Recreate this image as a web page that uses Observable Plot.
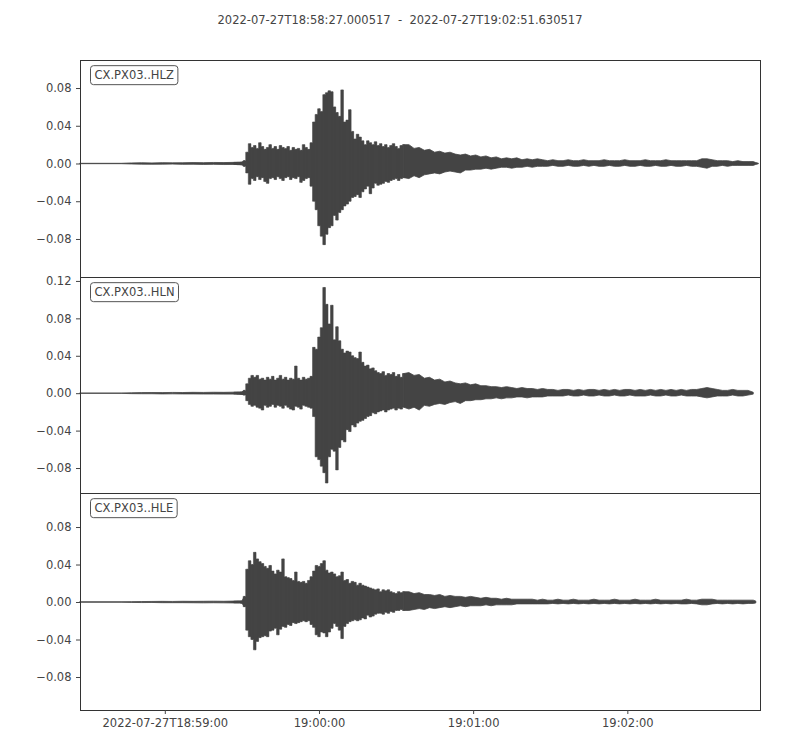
<!DOCTYPE html>
<html><head><meta charset="utf-8">
<script src="https://cdn.jsdelivr.net/npm/d3@7"></script>
<script src="https://cdn.jsdelivr.net/npm/@observablehq/plot@0.6"></script>
<style>
body{margin:0;background:#fff;font-family:"DejaVu Sans",sans-serif;}
#chart{position:relative;width:800px;height:750px;background:#fff;}
#title{position:absolute;top:13px;left:0;width:800px;text-align:center;font-size:11.5px;color:#444;white-space:pre;z-index:5;}
.panel{position:absolute;left:0;}
</style>
</head><body>
<div id="chart"><div id="title"></div></div>
<script>
// ---- data ----
const TITLE = "2022-07-27T18:58:27.000517  -  2022-07-27T19:02:51.630517";
const START = "2022-07-27T18:58:27.000517";
const END = "2022-07-27T19:02:51.630517";
const CHANNELS = ["CX.PX03..HLZ", "CX.PX03..HLN", "CX.PX03..HLE"];
const XTICKS = ["2022-07-27T18:59:00Z", "2022-07-27T19:00:00Z", "2022-07-27T19:01:00Z", "2022-07-27T19:02:00Z"];
const XTICK_LABELS = ["2022-07-27T18:59:00", "19:00:00", "19:01:00", "19:02:00"];
const YTICKS_Z = [-0.08, -0.04, 0, 0.04, 0.08];
const YTICKS_N = [-0.08, -0.04, 0, 0.04, 0.08, 0.12];
const YTICKS_E = [-0.08, -0.04, 0, 0.04, 0.08];
const YDOMAIN_Z = [-0.1203, 0.1097];
const YDOMAIN_N = [-0.1067, 0.1242];
const YDOMAIN_E = [-0.1152, 0.1163];
const STRONG_END = 126; // seconds: end of 1-second sampling

// envelope sample times, seconds after START
const T = [0,16,20,24,28,32,36,40,44,48,52,56,60,62,63,64,
65,66,67,68,69,70,71,72,73,74,75,76,77,78,79,80,81,82,83,84,85,86,87,88,89,90,91,92,93,94,
95,96,97,98,99,100,101,102,103,104,105,106,107,108,109,110,111,112,113,114,115,116,117,118,119,120,121,122,123,124,125,126,
128,130,132,134,136,138,140,142,144,146,148,150,152,154,156,158,160,162,164,166,168,170,172,174,176,178,180,182,184,186,
188,190,192,194,196,198,200,202,204,206,208,210,212,214,216,218,220,222,224,226,228,230,232,234,236,238,240,242,244,246,
248,250,252,254,256,258,260,262,263,264];

// HLZ upper / lower envelope
const Z_HI = [0.0002,0.0002,0.0006,0.0008,0.0006,0.0009,0.0007,0.0008,0.0010,0.0009,0.0011,0.0010,0.0012,0.0013,0.0015,0.0030,
0.012,0.021,0.017,0.019,0.016,0.022,0.018,0.015,0.017,0.020,
0.016,0.018,0.015,0.019,0.017,0.016,0.018,0.014,0.017,0.015,
0.016,0.014,0.020,0.017,0.015,0.022,0.044,0.052,0.058,0.055,
0.073,0.075,0.077,0.076,0.060,0.054,0.050,0.078,0.044,0.046,
0.057,0.034,0.026,0.031,0.028,0.024,0.020,0.024,0.022,0.020,
0.023,0.019,0.021,0.018,0.020,0.017,0.019,0.021,0.018,0.016,
0.019,0.020,
0.020,0.016,0.017,0.014,0.015,0.012,0.013,0.011,0.012,0.010,
0.009,0.010,0.008,0.009,0.007,0.008,0.006,0.007,0.005,0.006,
0.005,0.006,0.004,0.005,0.004,0.005,0.004,0.003,0.004,0.003,
0.003,0.004,0.003,0.003,0.004,0.003,0.003,0.003,0.004,0.003,
0.003,0.003,0.004,0.003,0.003,0.003,0.004,0.003,0.003,0.003,
0.004,0.003,0.003,0.003,0.003,0.003,0.003,0.005,0.005,0.004,
0.003,0.003,0.003,0.002,0.003,0.002,0.002,0.002,
0.001,0.0003];
const Z_LO = [-0.0002,-0.0002,-0.0005,-0.0007,-0.0008,-0.0007,-0.0006,-0.0009,-0.0008,-0.0010,-0.0009,-0.0011,-0.0010,-0.0012,-0.0014,-0.0030,
-0.010,-0.022,-0.016,-0.018,-0.014,-0.017,-0.015,-0.019,-0.021,-0.016,
-0.015,-0.017,-0.014,-0.016,-0.018,-0.015,-0.014,-0.017,-0.015,-0.016,
-0.014,-0.020,-0.018,-0.016,-0.015,-0.024,-0.040,-0.049,-0.066,-0.077,
-0.086,-0.075,-0.068,-0.066,-0.055,-0.060,-0.052,-0.049,-0.045,-0.043,
-0.040,-0.036,-0.035,-0.033,-0.036,-0.030,-0.027,-0.024,-0.032,-0.026,
-0.021,-0.023,-0.022,-0.021,-0.019,-0.020,-0.018,-0.017,-0.016,-0.018,
-0.016,-0.015,
-0.016,-0.013,-0.015,-0.012,-0.011,-0.010,-0.011,-0.009,-0.008,-0.009,
-0.010,-0.007,-0.007,-0.006,-0.006,-0.005,-0.006,-0.005,-0.004,-0.004,
-0.005,-0.004,-0.004,-0.003,-0.004,-0.003,-0.003,-0.003,-0.002,-0.003,
-0.003,-0.002,-0.003,-0.003,-0.002,-0.003,-0.002,-0.003,-0.003,-0.002,
-0.003,-0.003,-0.002,-0.003,-0.003,-0.002,-0.003,-0.003,-0.002,-0.003,
-0.003,-0.002,-0.003,-0.003,-0.002,-0.003,-0.003,-0.004,-0.005,-0.003,
-0.003,-0.002,-0.003,-0.002,-0.002,-0.002,-0.002,-0.002,
-0.001,-0.0003];

// HLN upper / lower envelope
const N_HI = [0.0002,0.0002,0.0004,0.0006,0.0007,0.0006,0.0008,0.0007,0.0009,0.0008,0.0010,0.0009,0.0011,0.0012,0.0014,0.0030,
0.010,0.016,0.019,0.017,0.019,0.015,0.016,0.014,0.017,0.015,
0.018,0.014,0.016,0.019,0.015,0.017,0.014,0.016,0.015,0.029,
0.016,0.014,0.017,0.015,0.016,0.018,0.049,0.047,0.060,0.070,
0.113,0.095,0.074,0.094,0.057,0.071,0.056,0.047,0.043,0.045,
0.044,0.040,0.038,0.037,0.044,0.033,0.029,0.030,0.026,0.027,
0.024,0.022,0.021,0.023,0.019,0.021,0.020,0.022,0.018,0.020,
0.017,0.021,
0.022,0.019,0.020,0.016,0.017,0.014,0.015,0.012,0.013,0.011,
0.010,0.011,0.009,0.010,0.008,0.008,0.007,0.007,0.006,0.007,
0.006,0.005,0.006,0.005,0.005,0.004,0.005,0.004,0.004,0.003,
0.004,0.004,0.003,0.004,0.003,0.004,0.004,0.003,0.004,0.003,
0.004,0.003,0.004,0.004,0.003,0.004,0.003,0.004,0.003,0.004,
0.003,0.004,0.003,0.004,0.003,0.004,0.004,0.005,0.006,0.005,
0.004,0.003,0.003,0.004,0.003,0.003,0.003,0.001];
const N_LO = [-0.0002,-0.0002,-0.0005,-0.0006,-0.0006,-0.0008,-0.0007,-0.0008,-0.0008,-0.0009,-0.0009,-0.0010,-0.0010,-0.0011,-0.0013,-0.0020,
-0.008,-0.012,-0.014,-0.013,-0.015,-0.016,-0.018,-0.013,-0.015,-0.014,
-0.012,-0.015,-0.013,-0.014,-0.016,-0.013,-0.015,-0.017,-0.018,-0.014,
-0.015,-0.017,-0.013,-0.014,-0.015,-0.016,-0.025,-0.068,-0.071,-0.078,
-0.085,-0.096,-0.068,-0.060,-0.062,-0.082,-0.058,-0.050,-0.052,-0.039,
-0.041,-0.034,-0.036,-0.032,-0.030,-0.029,-0.027,-0.025,-0.024,-0.021,
-0.022,-0.020,-0.019,-0.018,-0.020,-0.018,-0.017,-0.016,-0.018,-0.016,
-0.017,-0.015,
-0.017,-0.015,-0.018,-0.013,-0.014,-0.012,-0.011,-0.012,-0.010,-0.009,
-0.011,-0.008,-0.008,-0.007,-0.007,-0.006,-0.006,-0.005,-0.006,-0.005,
-0.005,-0.004,-0.004,-0.005,-0.004,-0.004,-0.004,-0.003,-0.003,-0.003,
-0.003,-0.002,-0.003,-0.003,-0.002,-0.003,-0.003,-0.002,-0.003,-0.003,
-0.002,-0.003,-0.003,-0.002,-0.003,-0.003,-0.003,-0.002,-0.003,-0.003,
-0.002,-0.003,-0.003,-0.002,-0.003,-0.003,-0.003,-0.004,-0.005,-0.004,
-0.003,-0.003,-0.003,-0.002,-0.003,-0.003,-0.002,-0.001];

// HLE upper / lower envelope
const E_HI = [0.0002,0.0002,0.0004,0.0005,0.0006,0.0007,0.0006,0.0008,0.0007,0.0008,0.0009,0.0008,0.0010,0.0011,0.0012,0.0060,
0.035,0.044,0.040,0.053,0.046,0.043,0.041,0.038,0.036,0.039,
0.033,0.030,0.034,0.032,0.046,0.027,0.026,0.025,0.023,0.032,
0.022,0.021,0.022,0.020,0.023,0.027,0.033,0.039,0.038,0.041,
0.044,0.034,0.031,0.032,0.030,0.027,0.028,0.032,0.023,0.024,
0.020,0.022,0.021,0.018,0.020,0.018,0.017,0.016,0.015,0.014,
0.013,0.014,0.011,0.013,0.012,0.013,0.011,0.010,0.009,0.011,
0.010,0.011,
0.011,0.009,0.010,0.008,0.008,0.007,0.008,0.006,0.007,0.006,
0.006,0.005,0.006,0.005,0.004,0.005,0.004,0.004,0.003,0.004,
0.003,0.003,0.003,0.003,0.003,0.002,0.003,0.002,0.002,0.003,
0.002,0.002,0.003,0.002,0.002,0.002,0.003,0.002,0.002,0.002,
0.003,0.002,0.002,0.002,0.003,0.002,0.002,0.002,0.003,0.002,
0.002,0.002,0.002,0.002,0.003,0.002,0.002,0.003,0.003,0.003,
0.002,0.002,0.002,0.002,0.002,0.002,0.002,0.002,
0.001];
const E_LO = [-0.0002,-0.0002,-0.0004,-0.0006,-0.0005,-0.0007,-0.0007,-0.0007,-0.0008,-0.0009,-0.0008,-0.0009,-0.0010,-0.0010,-0.0012,-0.0050,
-0.030,-0.037,-0.040,-0.051,-0.042,-0.038,-0.037,-0.036,-0.037,-0.031,
-0.030,-0.028,-0.035,-0.029,-0.026,-0.027,-0.024,-0.025,-0.022,-0.023,
-0.022,-0.021,-0.020,-0.021,-0.020,-0.024,-0.027,-0.035,-0.037,-0.032,
-0.033,-0.037,-0.032,-0.028,-0.023,-0.026,-0.030,-0.039,-0.026,-0.023,
-0.021,-0.020,-0.019,-0.020,-0.019,-0.017,-0.018,-0.014,-0.016,-0.015,
-0.013,-0.012,-0.012,-0.013,-0.011,-0.012,-0.010,-0.011,-0.009,-0.009,
-0.008,-0.009,
-0.009,-0.008,-0.007,-0.008,-0.006,-0.007,-0.006,-0.005,-0.006,-0.005,
-0.004,-0.005,-0.004,-0.004,-0.004,-0.003,-0.004,-0.003,-0.003,-0.003,
-0.003,-0.002,-0.002,-0.002,-0.002,-0.002,-0.002,-0.002,-0.0015,-0.002,
-0.0015,-0.002,-0.0015,-0.002,-0.0015,-0.002,-0.0015,-0.002,-0.0015,-0.002,
-0.0015,-0.002,-0.0015,-0.002,-0.0015,-0.002,-0.0015,-0.002,-0.0015,-0.002,
-0.0015,-0.002,-0.0015,-0.002,-0.002,-0.0015,-0.002,-0.003,-0.003,-0.002,
-0.0015,-0.002,-0.0015,-0.002,-0.0015,-0.002,-0.0015,-0.0015,
-0.001];

// ---- drawing ----
const INK = "#444";
const FONT = "DejaVu Sans";
const t0 = new Date(START.slice(0, 23) + "Z");
const t1 = new Date(END.slice(0, 23) + "Z");
const xTicks = XTICKS.map(s => new Date(s));
document.getElementById("title").textContent = TITLE;

function rows(hi, lo) {
  return hi.map((h, i) => ({sec: T[i], time: new Date(t0.getTime() + T[i] * 1000), hi: h, lo: lo[i]}));
}

const panels = [
  {label: CHANNELS[0], data: rows(Z_HI, Z_LO), ticks: YTICKS_Z, domain: YDOMAIN_Z, top: 0, height: 277, mt: 60, mb: 0, xaxis: false},
  {label: CHANNELS[1], data: rows(N_HI, N_LO), ticks: YTICKS_N, domain: YDOMAIN_N, top: 277, height: 216, mt: 0, mb: 0, xaxis: false},
  {label: CHANNELS[2], data: rows(E_HI, E_LO), ticks: YTICKS_E, domain: YDOMAIN_E, top: 493, height: 257, mt: 0, mb: 40, xaxis: true}
];

const chart = document.getElementById("chart");
for (const p of panels) {
  const strong = p.data.filter(d => d.sec >= 60 && d.sec <= STRONG_END);
  const rest1 = p.data.filter(d => d.sec <= 64);
  const rest2 = p.data.filter(d => d.sec >= STRONG_END);
  const marks = [
    Plot.areaY(rest1, {x: "time", y1: "lo", y2: "hi", fill: INK, stroke: INK, strokeWidth: 0.8}),
    Plot.areaY(rest2, {x: "time", y1: "lo", y2: "hi", fill: INK, stroke: INK, strokeWidth: 0.8}),
    Plot.areaY(strong, {x: "time", y1: "lo", y2: "hi", fill: INK, stroke: INK, strokeWidth: 0.6, curve: "step"}),
    Plot.ruleX(strong, {x: "time", y1: "lo", y2: "hi", stroke: INK, strokeWidth: 1}),
    Plot.frame({stroke: "#333", strokeWidth: 1}),
    Plot.axisY({ticks: p.ticks, tickFormat: d3.format(".2f"), tickSize: 4, tickPadding: 5, fontSize: 11.5}),
    Plot.text([p.label], {frameAnchor: "top-left", dx: 14, dy: 10.5, text: d => d, fontSize: 11.5, fill: INK})
  ];
  if (p.xaxis) {
    marks.push(Plot.axisX({ticks: xTicks, tickSize: 4, tickPadding: 4, fontSize: 11.5,
      tickFormat: d => XTICK_LABELS[xTicks.findIndex(v => v.getTime() === d.getTime())]}));
  }
  const svg = Plot.plot({
    width: 800, height: p.height,
    marginTop: p.mt, marginBottom: p.mb, marginLeft: 80, marginRight: 40,
    x: {type: "utc", domain: [t0, t1], axis: null},
    y: {domain: p.domain, axis: null},
    style: {fontFamily: FONT, fontSize: "11.5px", color: INK, background: "transparent", overflow: "visible"},
    marks
  });
  svg.classList.add("panel");
  svg.style.top = p.top + "px";
  chart.appendChild(svg);
  // rounded box behind the channel label
  const txt = Array.from(svg.querySelectorAll("text")).find(el => el.textContent === p.label);
  if (txt) {
    const b = txt.getBBox();
    const rect = document.createElementNS("http://www.w3.org/2000/svg", "rect");
    rect.setAttribute("x", b.x - 4);
    rect.setAttribute("y", b.y - 2.5);
    rect.setAttribute("width", b.width + 8);
    rect.setAttribute("height", b.height + 5);
    rect.setAttribute("rx", 3);
    rect.setAttribute("fill", "#fff");
    rect.setAttribute("stroke", "#555");
    rect.setAttribute("stroke-width", 1);
    const tr = txt.getAttribute("transform");
    if (tr) rect.setAttribute("transform", tr);
    txt.parentNode.insertBefore(rect, txt);
  }
}
</script>
</body></html>
